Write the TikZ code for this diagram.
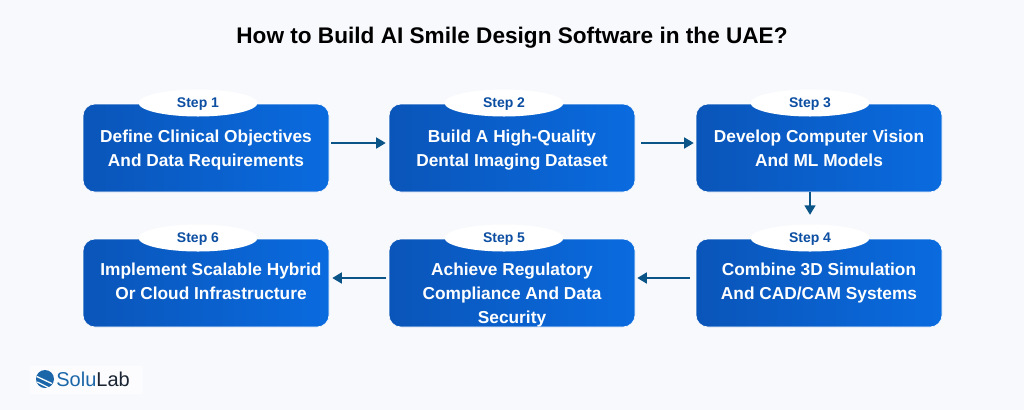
\documentclass[tikz,border=0pt]{standalone}
\usepackage{fontspec}
\setmainfont{Liberation Sans}
\usetikzlibrary{shapes.geometric,arrows.meta,positioning}
\definecolor{pagebg}{HTML}{F8F9FD}
\definecolor{boxleft}{HTML}{0A55B9}
\definecolor{boxright}{HTML}{0A6BDF}
\definecolor{steptext}{HTML}{0B4EA2}
\definecolor{arrowblue}{HTML}{0B5488}
\definecolor{logoblue}{HTML}{1B66A8}
\definecolor{logodark}{HTML}{1A2433}
\tikzset{stepbox/.style = {rectangle,rounded corners=12pt,minimum width=246pt,minimum height=88pt,
    left color=boxleft,right color=boxright,draw=white,line width=0.6pt,inner sep=0pt}}
\tikzset{boxtext/.style = {text=white,align=center,inner sep=0pt,font=\bfseries\fontsize{17.3}{24}\selectfont}}
\tikzset{steptag/.style = {ellipse,fill=white,minimum width=119pt,minimum height=27pt,inner sep=0pt,
    text depth=0pt,text=steptext,font=\bfseries\fontsize{14}{16}\selectfont}}
\tikzset{flow/.style = {draw=arrowblue,line width=1.6pt,-{Triangle[length=9.5pt,width=11pt]}}}

\begin{document}
\begin{tikzpicture}[x=1pt,y=-1pt]
  \fill[pagebg] (0,0) rectangle (1024,410);
  \useasboundingbox (0,0) rectangle (1024,410);

  \node[font=\bfseries\fontsize{22.6}{28}\selectfont,text=black] (title) at (512,38) {How to Build AI Smile Design Software in the UAE?};

  \node[stepbox] (A) at (206,148) {};
  \node[stepbox] (B) at (512,148) {};
  \node[stepbox] (C) at (819,148) {};
  \node[stepbox] (D) at (819,283) {};
  \node[stepbox] (E) at (512,283) {};
  \node[stepbox] (F) at (206,283) {};

  \node[steptag] (tagA) at (198,103) {Step 1};
  \node[steptag] (tagB) at (504,103) {Step 2};
  \node[steptag] (tagC) at (810,103) {Step 3};
  \node[steptag] (tagD) at (810,238) {Step 4};
  \node[steptag] (tagE) at (504,238) {Step 5};
  \node[steptag] (tagF) at (198,238) {Step 6};

  \node[boxtext] (textA) at (206,150) {Define Clinical Objectives\\And Data Requirements};
  \node[boxtext] (textB) at (512,150) {Build A High-Quality\\Dental Imaging Dataset};
  \node[boxtext] (textC) at (819,148) {Develop Computer Vision\\And ML Models};
  \node[boxtext] (textD) at (819,283) {Combine 3D Simulation\\And CAD/CAM Systems};
  \node[boxtext] (textE) at (512,295) {Achieve Regulatory\\Compliance And Data\\Security};
  \node[boxtext] (textF) at (211,281) {Implement Scalable Hybrid\\Or Cloud Infrastructure};

  \draw[flow,shorten <=2pt,shorten >=3pt] ([yshift=5pt]A.east) -- ([yshift=5pt]B.west);
  \draw[flow,shorten <=6pt,shorten >=2pt] ([yshift=5pt]B.east) -- ([yshift=5pt]C.west);
  \draw[flow,shorten >=9.5pt] (C.south -| tagC.south) -- (tagD.north);
  \draw[flow,shorten <=6pt,shorten >=2pt] ([yshift=5pt]D.west) -- ([yshift=5pt]E.east);
  \draw[flow,shorten <=3pt,shorten >=3pt] ([yshift=5pt]E.west) -- ([yshift=5pt]F.east);

  % logo
  \fill[white,opacity=0.6] (30,366) rectangle (143,394);
  \node[circle,fill=logoblue,minimum size=18pt,inner sep=0pt] (icon) at (45,379) {};
  \draw[white,line width=1.3pt] (icon.west) ++(1,-2.5) -- ++(15,7);
  \draw[white,line width=1.3pt] (icon.west) ++(1.5,3) -- ++(12,6);
  \node[right=2pt of icon,inner sep=0pt,font=\fontsize{20}{24}\selectfont] (logo) {\textcolor{logoblue}{Solu}\textcolor{logodark}{Lab}};
\end{tikzpicture}
\end{document}
